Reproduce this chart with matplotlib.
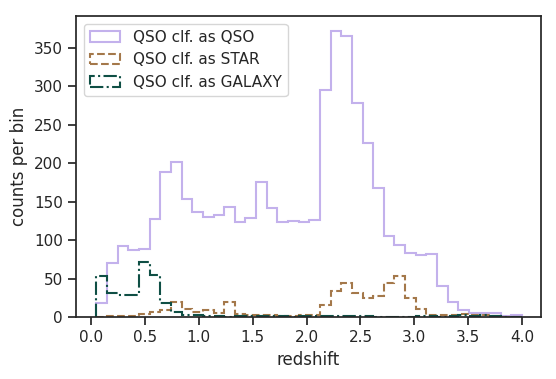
import numpy as np
import matplotlib
matplotlib.use("Agg")
import matplotlib.pyplot as plt
import seaborn as sns

sns.set_theme(style="ticks", context="notebook")
plt.rcParams['font.family'] = ['DejaVu Sans']

# bin edges (redshift)
z_min, z_max, n_bins = 0.05, 4.0, 40

qso_as_qso = [18, 70, 92, 87, 88, 127, 188, 201, 153, 136, 130, 132, 143, 123, 129, 175,
              142, 123, 125, 123, 126, 295, 372, 365, 278, 226, 168, 105, 94, 83, 80, 82,
              40, 19, 9, 5, 5, 5, 1, 3]
qso_as_star = [0, 1, 1, 1, 4, 7, 9, 19, 10, 7, 9, 5, 20, 4, 3, 2, 2, 1, 1, 3,
               3, 15, 34, 44, 31, 25, 27, 44, 53, 25, 10, 3, 3, 3, 4, 2, 2, 1, 0, 0]
qso_as_galaxy = [53, 31, 29, 29, 72, 54, 18, 6, 2, 2, 1, 1, 0, 1, 1, 1, 1, 1, 0, 1,
                 1, 1, 1, 1, 1, 1, 0, 0, 0, 0, 1, 1, 0, 1, 2, 1, 2, 1, 0, 0]

labels = ["QSO clf. as QSO", "QSO clf. as STAR", "QSO clf. as GALAXY"]
colors = ["#c3b1ec", "#a4784a", "#0f4f45"]
styles = ["solid", "dashed", "dashdot"]

edges = np.linspace(z_min, z_max, n_bins + 1)
centers = 0.5 * (edges[:-1] + edges[1:])

fig = plt.figure(figsize=(5.56, 3.79), dpi=100)
ax = fig.add_axes([76/556, 1 - 317/379, (541-76)/556, (317-16)/379])

for vals, lab, col, ls in zip([qso_as_qso, qso_as_star, qso_as_galaxy], labels, colors, styles):
    ax.hist(centers, bins=edges, weights=vals, histtype="step", color=col,
            linestyle=ls, linewidth=1.5, label=lab)

ax.set_xlim(-0.14, 4.175)
ax.set_ylim(0, 391)
ax.set_xticks([0.0, 0.5, 1.0, 1.5, 2.0, 2.5, 3.0, 3.5, 4.0])
ax.set_yticks([0, 50, 100, 150, 200, 250, 300, 350])
ax.tick_params(labelsize=11)
ax.set_xlabel("redshift", fontsize=12)
ax.set_ylabel("counts per bin", fontsize=12)
ax.legend(loc="upper left", fontsize=11)

fig.savefig("out.png", dpi=100)
